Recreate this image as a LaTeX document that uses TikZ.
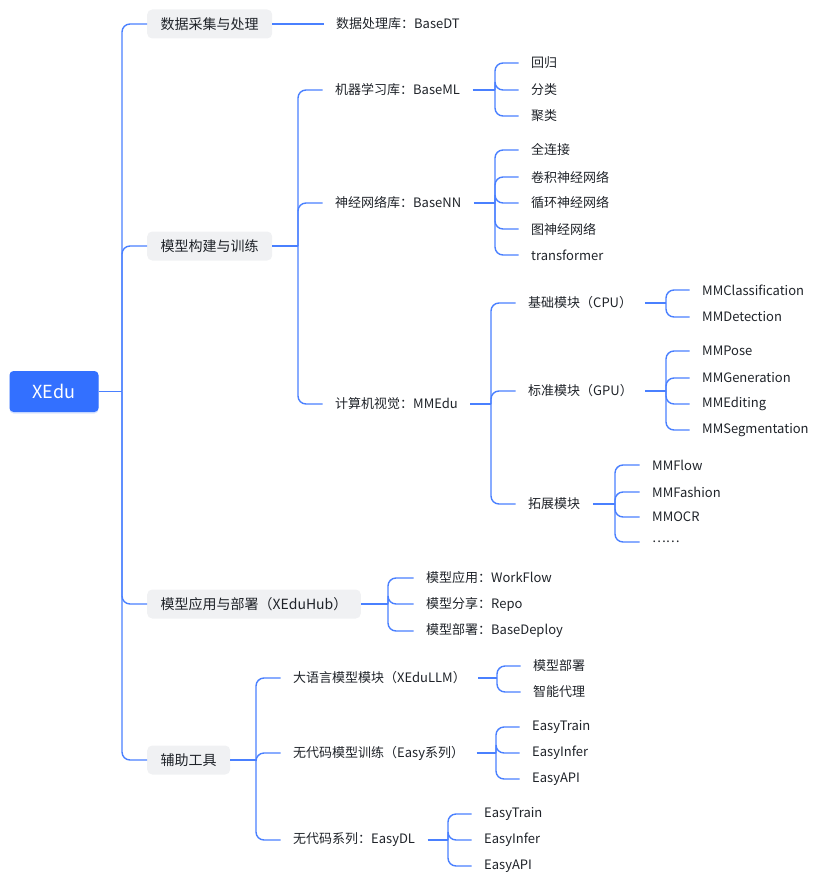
\documentclass[tikz,border=0pt]{standalone}
\usepackage{fontspec}
\setmainfont{Noto Sans CJK SC}
\usetikzlibrary{shadows}
\definecolor{xblue}{HTML}{3370FF}
\definecolor{xline}{HTML}{4A80FF}
\definecolor{xgray}{HTML}{F0F1F3}
\definecolor{xtext}{HTML}{1F2329}
\tikzset{
  rootbox/.style={fill=xblue,text=white,rounded corners=4pt,minimum width=89pt,minimum height=41pt,font=\fontsize{18}{20}\selectfont,
    drop shadow={shadow xshift=0pt,shadow yshift=-1.5pt,opacity=0.18,fill=xblue}},
  mainbox/.style={fill=xgray,text=xtext,rounded corners=5pt,inner xsep=13.5pt,minimum height=29pt,anchor=west,font=\fontsize{14}{16}\selectfont},
  leaf/.style={text=xtext,inner xsep=12.5pt,inner ysep=2pt,anchor=west,xshift=-12.5pt,font=\fontsize{13}{15}\selectfont},
  link/.style={draw=xline,line width=1.4pt,rounded corners=8pt},
}
% parent, junction x, children
\newcommand{\fork}[3]{%
  \draw[link] (#1.east) -- (#1.east -| #2,0);
  \foreach \c in {#3} \draw[link] (#1.east -| #2,0) |- (\c.west);
}
\begin{document}
\begin{tikzpicture}[x=1pt,y=-1pt]
  \useasboundingbox (0,0) rectangle (828,888);
  \node[rootbox] (xedu) at (54,391.5) {XEdu};
  \node[mainbox] (data) at (147,24) {数据采集与处理};
  \node[mainbox] (build) at (147,246) {模型构建与训练};
  \node[mainbox] (hub) at (147,604) {模型应用与部署（XEduHub）};
  \node[mainbox] (tool) at (147,760) {辅助工具};
  % data
  \node[leaf] (basedt) at (336,24) {数据处理库：BaseDT};
  % build
  \node[leaf] (baseml) at (335,90) {机器学习库：BaseML};
  \node[leaf] (basenn) at (335,203) {神经网络库：BaseNN};
  \node[leaf] (mmedu) at (335,404) {计算机视觉：MMEdu};
  \node[leaf] (reg) at (531,63) {回归};
  \node[leaf] (cls) at (531,90) {分类};
  \node[leaf] (clu) at (531,116) {聚类};
  \node[leaf] (fc) at (531,150) {全连接};
  \node[leaf] (cnn) at (531,177) {卷积神经网络};
  \node[leaf] (rnn) at (531,203) {循环神经网络};
  \node[leaf] (gnn) at (531,229) {图神经网络};
  \node[leaf] (tf) at (531,255) {transformer};
  \node[leaf] (cpu) at (528,303) {基础模块（CPU）};
  \node[leaf] (gpu) at (528,391) {标准模块（GPU）};
  \node[leaf] (ext) at (528,504) {拓展模块};
  \node[leaf] (mmcls) at (702,290) {MMClassification};
  \node[leaf] (mmdet) at (702,317) {MMDetection};
  \node[leaf] (mmpose) at (702,351) {MMPose};
  \node[leaf] (mmgen) at (702,378) {MMGeneration};
  \node[leaf] (mmedit) at (702,404) {MMEditing};
  \node[leaf] (mmseg) at (702,430) {MMSegmentation};
  \node[leaf] (mmflow) at (652,465) {MMFlow};
  \node[leaf] (mmfash) at (652,492) {MMFashion};
  \node[leaf] (mmocr) at (652,517) {MMOCR};
  \node[leaf] (more) at (652,542) {……};
  % hub
  \node[leaf] (flow) at (426,578) {模型应用：WorkFlow};
  \node[leaf] (repo) at (426,604) {模型分享：Repo};
  \node[leaf] (deploy) at (426,631) {模型部署：BaseDeploy};
  % tool
  \node[leaf] (llm) at (293,678) {大语言模型模块（XEduLLM）};
  \node[leaf] (easy) at (293,753) {无代码模型训练（Easy系列）};
  \node[leaf] (easydl) at (293,840) {无代码系列：EasyDL};
  \node[leaf] (llmdep) at (533,666) {模型部署};
  \node[leaf] (agent) at (533,692) {智能代理};
  \node[leaf] (etrain) at (532,727) {EasyTrain};
  \node[leaf] (einfer) at (532,753) {EasyInfer};
  \node[leaf] (eapi) at (532,779) {EasyAPI};
  \node[leaf] (dtrain) at (484,814) {EasyTrain};
  \node[leaf] (dinfer) at (484,840) {EasyInfer};
  \node[leaf] (dapi) at (484,866) {EasyAPI};
  % connectors
  \fork{xedu}{122}{data,build,hub,tool}
  \draw[link] (data) -- (basedt);
  \fork{build}{298}{baseml,basenn,mmedu}
  \fork{baseml}{495}{reg,cls,clu}
  \fork{basenn}{495}{fc,cnn,rnn,gnn,tf}
  \fork{mmedu}{491}{cpu,gpu,ext}
  \fork{cpu}{666}{mmcls,mmdet}
  \fork{gpu}{666}{mmpose,mmgen,mmedit,mmseg}
  \fork{ext}{615}{mmflow,mmfash,mmocr,more}
  \fork{hub}{388}{flow,repo,deploy}
  \fork{tool}{256}{llm,easy,easydl}
  \fork{llm}{497}{llmdep,agent}
  \fork{easy}{496}{etrain,einfer,eapi}
  \fork{easydl}{448}{dtrain,dinfer,dapi}
\end{tikzpicture}
\end{document}
